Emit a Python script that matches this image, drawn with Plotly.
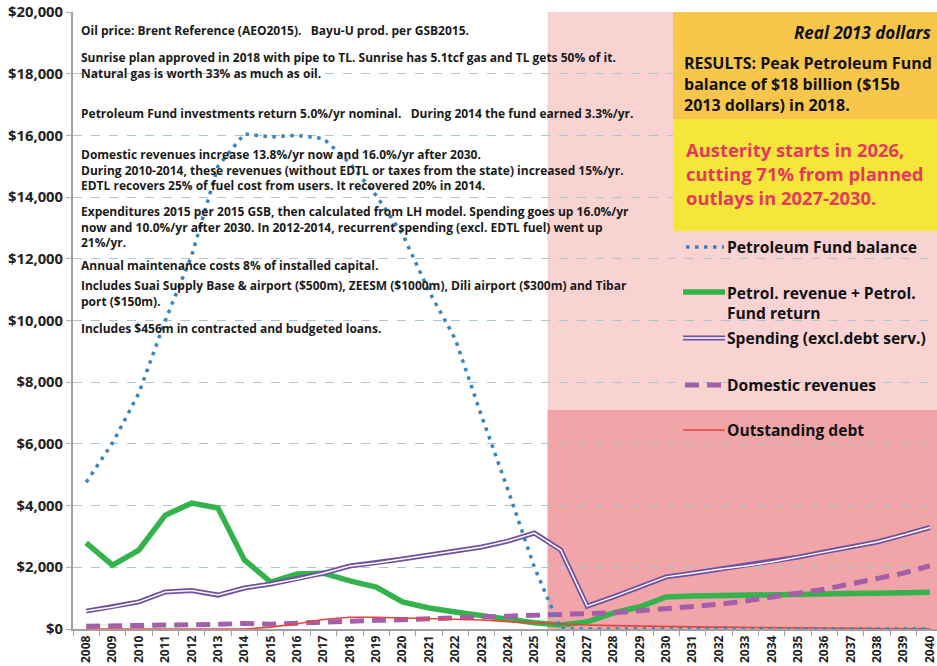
import plotly.graph_objects as go

# ---------------- data ----------------
years = list(range(2008, 2041))
pf_balance = [4760, 6030, 7650, 10000, 12100, 15000, 16050, 15950, 16000, 15900,
              15100, 14050, 12800, 10950, 9400, 6900, 4500, 2000,
              0, 0, 0, 0, 0, 0, 0, 0, 0, 0, 0, 0, 0, 0, 0]
petrol_rev = [2790, 2070, 2560, 3690, 4080, 3920, 2240, 1520, 1780, 1810,
              1560, 1360, 875, 680, 550, 450, 320, 200,
              130, 230, 520, 720, 1040, 1070, 1090, 1100, 1110, 1120, 1140, 1150, 1160, 1170, 1190]
spending = [580, 710, 880, 1200, 1250, 1100, 1330, 1460, 1620, 1810,
            2040, 2140, 2270, 2400, 2530, 2660, 2850, 3110,
            2560, 740, 1040, 1360, 1690, 1810, 1940, 2040, 2170, 2330, 2500, 2660, 2820, 3050, 3290]
domestic = [90, 95, 100, 105, 140, 150, 180, 150, 190, 230,
            260, 280, 300, 330, 360, 380, 400, 420,
            450, 500, 530, 590, 650, 720, 800, 910, 1020, 1160, 1290, 1460, 1620, 1810, 2050]
debt = [0, 0, 0, 0, 0, 0, 0, 60, 170, 310,
        380, 380, 360, 330, 320, 290, 240, 200,
        160, 130, 110, 90, 80, 70, 60, 50, 40, 30, 25, 20, 15, 10, 5]

y_tickvals = [0, 2000, 4000, 6000, 8000, 10000, 12000, 14000, 16000, 18000, 20000]
y_ticktext = ["$0", "$2,000", "$4,000", "$6,000", "$8,000", "$10,000",
              "$12,000", "$14,000", "$16,000", "$18,000", "$20,000"]

# (lines of a note block, pixel y of block centre)
notes = [
    (["Oil price: Brent Reference (AEO2015).   Bayu-U prod. per GSB2015."], 30),
    (["Sunrise plan approved in 2018 with pipe to TL. Sunrise has 5.1tcf gas and TL gets 50% of it.",
      "Natural gas is worth 33% as much as oil."], 65.5),
    (["Petroleum Fund investments return 5.0%/yr nominal.   During 2014 the fund earned 3.3%/yr."], 114),
    (["Domestic revenues increase 13.8%/yr now and 16.0%/yr after 2030.",
      "During 2010-2014, these revenues (without EDTL or taxes from the state) increased 15%/yr.",
      "EDTL recovers 25% of fuel cost from users. It recovered 20% in 2014."], 170),
    (["Expenditures 2015 per 2015 GSB, then calculated from LH model. Spending goes up 16.0%/yr",
      "now and 10.0%/yr after 2030. In 2012-2014, recurrent spending (excl. EDTL fuel) went up",
      "21%/yr."], 227),
    (["Annual maintenance costs 8% of installed capital."], 265),
    (["Includes Suai Supply Base & airport ($500m), ZEESM ($1000m), Dili airport ($300m) and Tibar",
      "port ($150m)."], 293.5),
    (["Includes $456m in contracted and budgeted loans."], 328),
]

FONT = "'Open Sans', 'Noto Sans', sans-serif"
L, T, B, W, H = 73, 12, 629, 937, 666
PW = W - L
PH = B - T


def px(x):
    return (x - L) / PW


def py(y):
    return (B - y) / PH


fig = go.Figure()

# ---------------- traces ----------------
fig.add_trace(go.Scatter(x=years, y=petrol_rev, mode="lines",
                         line=dict(color="#34B24C", width=5.5), name="Petrol. revenue + Petrol. Fund return"))
fig.add_trace(go.Scatter(x=years, y=spending, mode="lines",
                         line=dict(color="#6E50A4", width=5), name="Spending (excl.debt serv.)"))
fig.add_trace(go.Scatter(x=years, y=spending, mode="lines",
                         line=dict(color="white", width=1.5), hoverinfo="skip"))
fig.add_trace(go.Scatter(x=years, y=domestic, mode="lines",
                         line=dict(color="#A55EA9", width=5, dash="14px,8px"), name="Domestic revenues"))
fig.add_trace(go.Scatter(x=years, y=debt, mode="lines",
                         line=dict(color="#E5463E", width=1.6), name="Outstanding debt"))
fig.add_trace(go.Scatter(x=years, y=pf_balance, mode="lines",
                         line=dict(color="#3A84BE", width=3.5, dash="3.5px,5.5px"), name="Petroleum Fund balance"))

# ---------------- shapes ----------------
shapes = [
    # austerity period shading
    dict(type="rect", xref="x", yref="y", x0=2025.5, x1=2040.5, y0=0, y1=20000,
         fillcolor="#F9D2D2", line=dict(width=0), layer="below"),
    dict(type="rect", xref="x", yref="y", x0=2025.5, x1=2040.5, y0=0, y1=7100,
         fillcolor="#F2A5A8", line=dict(width=0), layer="below"),
    # legend box
    dict(type="rect", xref="paper", yref="paper", x0=px(673), x1=1.0, y0=py(465), y1=py(231),
         fillcolor="#FCE3E3", line=dict(width=0), layer="below"),
    # results boxes
    dict(type="rect", xref="paper", yref="paper", x0=px(673), x1=1.0, y0=py(119), y1=1.0,
         fillcolor="#F7C64A", line=dict(width=0), layer="above"),
    dict(type="rect", xref="paper", yref="paper", x0=px(673), x1=1.0, y0=py(231), y1=py(119),
         fillcolor="#F7E63A", line=dict(width=0), layer="above"),
]


def leg_line(x0, x1, y, color, width, dash="solid"):
    shapes.append(dict(type="line", xref="paper", yref="paper", x0=px(x0), x1=px(x1),
                       y0=py(y), y1=py(y), line=dict(color=color, width=width, dash=dash), layer="above"))


leg_line(686, 724, 247, "#3A84BE", 3.5, "3.5px,5.5px")
leg_line(683, 725, 292, "#34B24C", 5.5)
leg_line(683, 725, 338, "#6E50A4", 5)
leg_line(683, 725, 338, "white", 1.5)
leg_line(685, 725, 385, "#A55EA9", 5, "14px,8px")
leg_line(683, 725, 430, "#E5463E", 1.6)

fig.update_layout(shapes=shapes)

# ---------------- annotations ----------------
ann = []
for lines, yy in notes:
    ann.append(dict(xref="paper", yref="paper", x=px(79), y=py(yy), text="<br>".join(lines),
                    showarrow=False, xanchor="left", yanchor="middle", align="left",
                    font=dict(family=FONT, size=12, color="#1a1a1a", weight="bold")))

ann.append(dict(xref="paper", yref="paper", x=px(933), y=py(32), text="<i>Real 2013 dollars</i>",
                showarrow=False, xanchor="right", yanchor="middle",
                font=dict(family=FONT, size=17, color="#111", weight="bold")))
ann.append(dict(xref="paper", yref="paper", x=px(682), y=py(84),
                text="RESULTS: Peak Petroleum Fund<br>balance of $18 billion ($15b<br>2013 dollars) in 2018.",
                showarrow=False, xanchor="left", yanchor="middle", align="left",
                font=dict(family=FONT, size=16, color="#111", weight="bold")))
ann.append(dict(xref="paper", yref="paper", x=px(684), y=py(174),
                text="Austerity starts in 2026,<br>cutting 71% from planned<br>outlays in 2027-2030.",
                showarrow=False, xanchor="left", yanchor="middle", align="left",
                font=dict(family=FONT, size=18.4, color="#E6385E", weight="bold")))
for txt, yy in [("Petroleum Fund balance", 247), ("Petrol. revenue + Petrol.<br>Fund return", 303),
                ("Spending (excl.debt serv.)", 338), ("Domestic revenues", 385), ("Outstanding debt", 430)]:
    ann.append(dict(xref="paper", yref="paper", x=px(725), y=py(yy), text=txt, showarrow=False,
                    xanchor="left", yanchor="middle", align="left",
                    font=dict(family=FONT, size=15.6, color="#111", weight="bold")))
fig.update_layout(annotations=ann)

# ---------------- axes / layout ----------------
fig.update_xaxes(range=[2007.5, 2040.27], tickmode="array", tickvals=years,
                 ticktext=[str(y) for y in years], tickangle=-90, ticklabeloverflow="allow",
                 tickfont=dict(family=FONT, size=12, color="#222", weight="bold"),
                 showgrid=False, zeroline=False, showline=True, linecolor="#A0A0A0", linewidth=1.5,
                 ticks="", minor=dict(ticks="outside", tick0=2007.5, dtick=1, ticklen=5,
                                      tickcolor="#A0A0A0", showgrid=False))
fig.update_yaxes(range=[0, 20000], tickmode="array", tickvals=y_tickvals, ticktext=y_ticktext,
                 tickfont=dict(family=FONT, size=14.8, color="#222", weight="bold"),
                 showgrid=True, gridcolor="#A7C7D8", griddash="dash", gridwidth=1,
                 zeroline=False, showline=True, linecolor="#A0A0A0", linewidth=2,
                 ticks="outside", ticklen=5, tickcolor="#B0B0B0")

fig.update_layout(width=W, height=H, margin=dict(l=L, r=0, t=T, b=H - B),
                  plot_bgcolor="white", paper_bgcolor="white", showlegend=False,
                  font=dict(family=FONT))

fig.write_html("out.html", config={"displayModeBar": False},
               post_script="document.body.style.margin='0px';document.body.style.overflow='hidden';")
